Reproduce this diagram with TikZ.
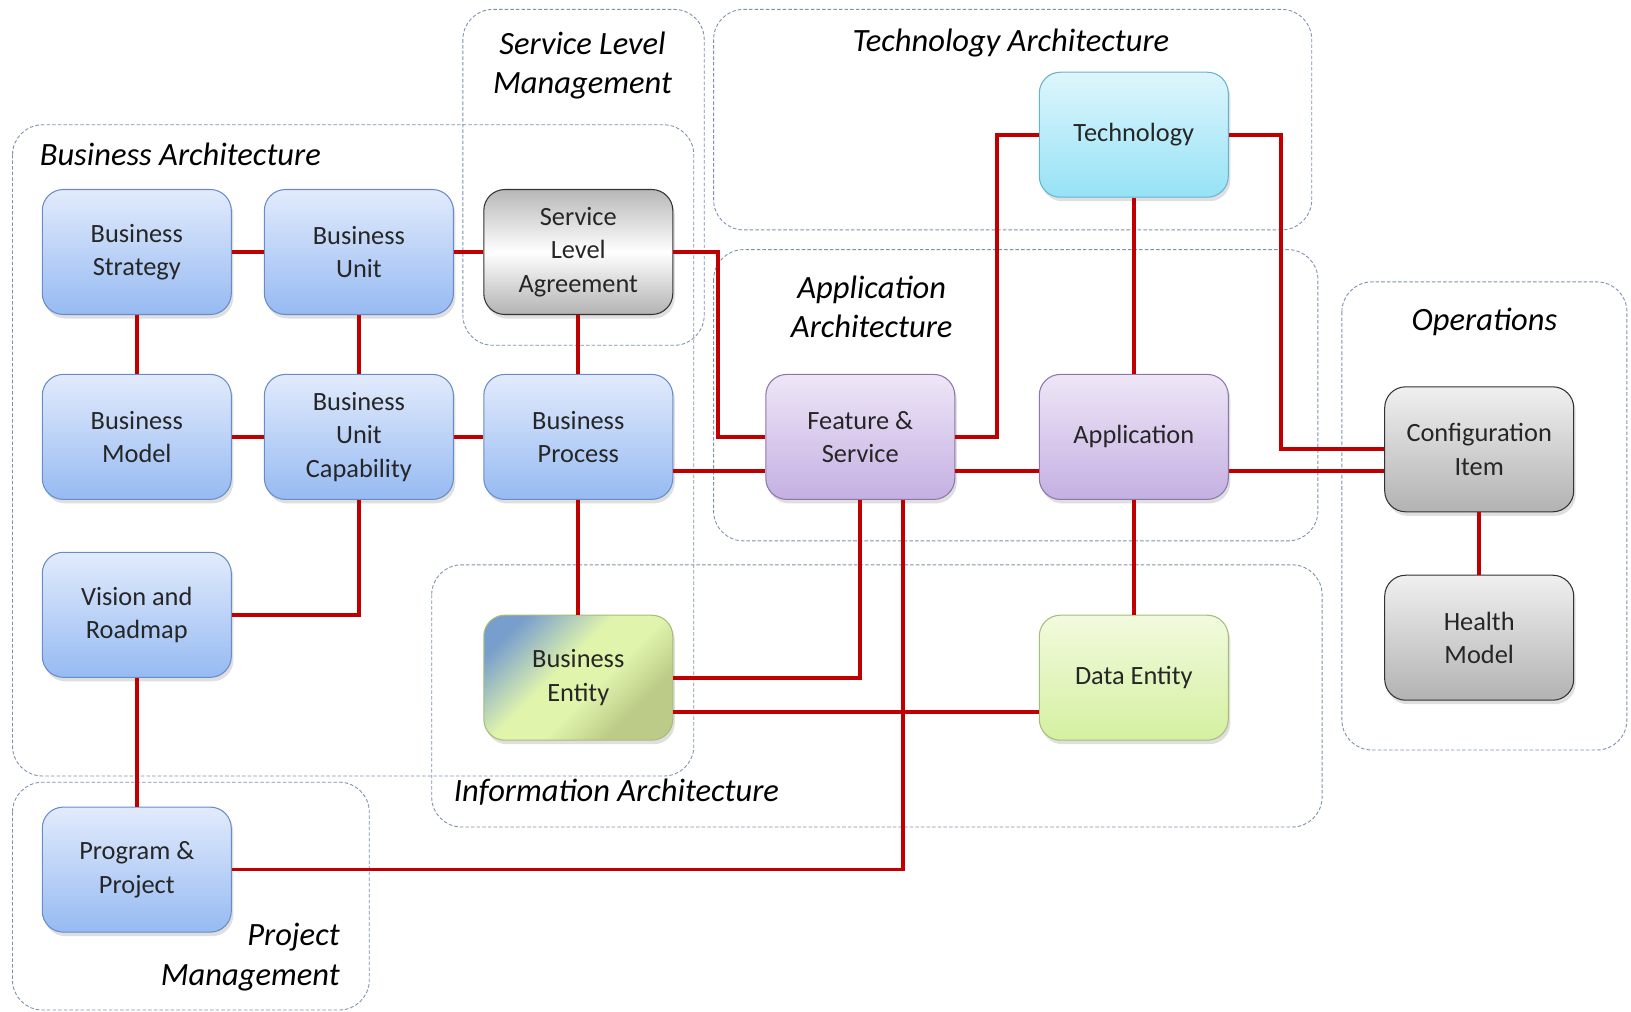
\documentclass[tikz,border=0pt]{standalone}
\usepackage{fontspec}
\setmainfont{Carlito}
\usetikzlibrary{positioning,calc,shadows}

\definecolor{linkred}{RGB}{192,0,0}
\definecolor{regionedge}{RGB}{125,145,175}
\definecolor{biztop}{RGB}{226,235,252}
\definecolor{bizbot}{RGB}{150,186,242}
\definecolor{bizedge}{RGB}{105,140,200}
\definecolor{techtop}{RGB}{222,246,252}
\definecolor{techbot}{RGB}{150,226,246}
\definecolor{techedge}{RGB}{100,180,210}
\definecolor{apptop}{RGB}{238,230,247}
\definecolor{appbot}{RGB}{196,176,226}
\definecolor{appedge}{RGB}{140,118,170}
\definecolor{datatop}{RGB}{242,250,222}
\definecolor{databot}{RGB}{212,240,160}
\definecolor{dataedge}{RGB}{165,190,120}
\definecolor{entblue}{RGB}{120,158,205}
\definecolor{entmid}{RGB}{224,244,172}
\definecolor{entolive}{RGB}{188,204,136}

\pgfdeclarehorizontalshading{entshade}{100bp}{color(0bp)=(entblue); color(24bp)=(entblue);
  color(44bp)=(entmid); color(56bp)=(entmid); color(70bp)=(entolive); color(100bp)=(entolive)}

\tikzset{
  box/.style={rectangle, rounded corners=4.2mm, minimum width=37.8mm, minimum height=25mm,
    align=center, text=black!85, line width=0.6pt, font=\fontsize{15}{19}\selectfont,
    drop shadow={opacity=0.25, shadow xshift=0.4mm, shadow yshift=-0.8mm}},
  bizbox/.style={box, draw=bizedge, top color=biztop, bottom color=bizbot},
  techbox/.style={box, draw=techedge, top color=techtop, bottom color=techbot},
  appbox/.style={box, draw=appedge, top color=apptop, bottom color=appbot},
  databox/.style={box, draw=dataedge, top color=datatop, bottom color=databot},
  greybox/.style={box, draw=black!80, top color=black!6, bottom color=black!30},
  link/.style={draw=linkred, line width=0.75mm},
  region/.style={draw=regionedge, dash pattern=on 2pt off 1.2pt, line width=0.5pt, rounded corners=6mm},
  areatitle/.style={font=\fontsize{18.5}{22.5}\selectfont\itshape, align=center, inner sep=0pt}
}

\begin{document}
\begin{tikzpicture}[x=0.2mm,y=-0.2mm]
\fill[white] (0,0) rectangle (1631,1011);

% areas
\draw[region] (12.5,124.8) rectangle (693.8,776);
\draw[region] (462.9,9.4) rectangle (704.2,345.3);
\draw[region] (713.6,9.4) rectangle (1311.7,229.9);
\draw[region] (713.6,249.6) rectangle (1317.9,540.9);
\draw[region] (431.7,564.8) rectangle (1322.1,827);
\draw[region] (1341.9,281.9) rectangle (1626.9,750);
\draw[region] (12.5,782.2) rectangle (369.3,1010);

\node (ba) at (39.5,154) [areatitle,anchor=west] {Business Architecture};
\node (slm) at (582.5,65.5) [areatitle] {Service Level\\Management};
\node (ta) at (1011,42.6) [areatitle] {Technology Architecture};
\node (aa) at (871.7,307) [areatitle] {Application\\Architecture};
\node (ia) at (453.5,792.6) [areatitle,anchor=west] {Information Architecture};
\node (ops) at (1484.4,321.4) [areatitle] {Operations};
\node (pm) at (340,957) [areatitle,anchor=east,align=right] {Project\\Management};

% boxes
\node (bs) at (136.8,252) [bizbox] {Business\\Strategy};
\node (bu) at (358.9,252) [bizbox] {Business\\Unit};
\node (sla) at (578.3,252) [box,draw=black!80,top color=black!28,bottom color=black!30,middle color=white] {Service\\Level\\Agreement};
\node (bm) at (136.8,436.9) [bizbox] {Business\\Model};
\node (buc) at (358.9,436.9) [bizbox] {Business\\Unit\\Capability};
\node (bp) at (578.3,436.9) [bizbox] {Business\\Process};
\node (vr) at (136.8,614.8) [bizbox] {Vision and\\Roadmap};
\node (pp) at (136.8,869.6) [bizbox] {Program \&\\Project};
\node (fs) at (860.3,436.9) [appbox] {Feature \&\\Service};
\node (app) at (1133.8,436.9) [appbox] {Application};
\node (tech) at (1133.8,134.7) [techbox] {Technology};
\node (be) at (578.3,677.7) [box,draw=dataedge,shading=entshade,shading angle=-45] {Business\\Entity};
\node (de) at (1133.8,677.7) [databox] {Data Entity};
\node (ci) at (1479.2,449.3) [greybox] {Configuration\\Item};
\node (hm) at (1479.2,637.7) [greybox] {Health\\Model};

% links
\draw[link] (bs) -- (bu);
\draw[link] (bu) -- (sla);
\draw[link] (bs) -- (bm);
\draw[link] (bu) -- (buc);
\draw[link] (sla) -- (bp);
\draw[link] (bm) -- (buc);
\draw[link] (buc) -- (bp);
\draw[link] (buc.south) |- (vr.east);
\draw[link] (vr) -- (pp);
\draw[link] (bp) -- (be);
\draw[link] (sla.east) -- ++(45,0) |- (fs.west);
\draw[link] ($(bp.east)+(0,34)$) -- ($(fs.west)+(0,34)$);
\draw[link] ($(fs.east)+(0,34)$) -- ($(app.west)+(0,34)$);
\coordinate (appout) at ($(app.east)+(0,34)$);
\draw[link] (appout) -- (appout -| ci.west);
\draw[link] (fs.east) -- ++(42,0) |- (tech.west);
\draw[link] (tech.east) -- ++(52,0) |- (ci.west);
\draw[link] (tech) -- (app);
\draw[link] (app) -- (de);
\draw[link] (ci) -- (hm);
\draw[link] (fs.south) |- (be.east);
\draw[link] ($(fs.south)+(43,0)$) |- (pp.east);
\draw[link] ($(be.east)+(0,34)$) -- ($(de.west)+(0,34)$);
\end{tikzpicture}
\end{document}
